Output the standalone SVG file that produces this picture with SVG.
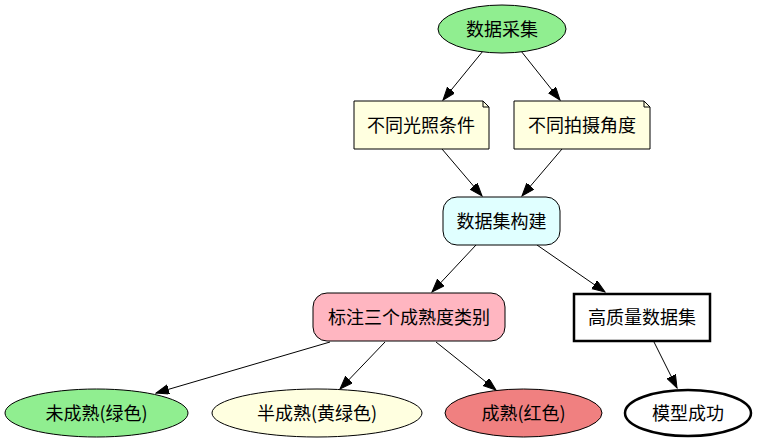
<svg xmlns="http://www.w3.org/2000/svg" width="757" height="443" viewBox="0 0 757 443">
<defs>
<marker id="arr" markerUnits="userSpaceOnUse" markerWidth="14" markerHeight="11" refX="13" refY="4.75" orient="auto">
<path d="M0,0 L13,4.75 L0,9.5 z" fill="#000" stroke="#000" stroke-width="1"/>
</marker>
</defs>
<style>
text{font-family:"Noto Sans CJK SC","Noto Sans",sans-serif;font-size:18px;text-anchor:middle;fill:#000}
.n{stroke:#000;stroke-width:1}
.thick{stroke:#000;stroke-width:2.5}
.e{stroke:#000;stroke-width:1;fill:none;marker-end:url(#arr)}
</style>
<rect width="757" height="443" fill="#fff"/>
<g id="edges">
<line class="e" x1="483" y1="51" x2="443" y2="100"/>
<line class="e" x1="521" y1="51" x2="560" y2="100"/>
<line class="e" x1="442" y1="149" x2="482" y2="196"/>
<line class="e" x1="562" y1="149" x2="522" y2="196"/>
<line class="e" x1="476" y1="245" x2="432" y2="292"/>
<line class="e" x1="537" y1="245" x2="605" y2="292"/>
<line class="e" x1="330" y1="342" x2="156" y2="393"/>
<line class="e" x1="385" y1="342" x2="340" y2="389"/>
<line class="e" x1="436" y1="342" x2="496" y2="390"/>
<line class="e" x1="654" y1="342" x2="677" y2="388"/>
</g>
<g id="n_collect">
<ellipse class="n" cx="502" cy="29" rx="64" ry="24" fill="#90EE90"/>
<text x="502" y="35.5">数据采集</text>
</g>
<g id="n_light">
<polygon class="n" points="354,101 483,101 489,107 489,149 354,149" fill="#FFFFE0"/>
<polyline class="n" points="483,101 483,107 489,107" fill="none"/>
<text x="421" y="131.5">不同光照条件</text>
</g>
<g id="n_angle">
<polygon class="n" points="514,101 644,101 650,107 650,149 514,149" fill="#FFFFE0"/>
<polyline class="n" points="644,101 644,107 650,107" fill="none"/>
<text x="582" y="131.5">不同拍摄角度</text>
</g>
<g id="n_build">
<rect class="n" x="443" y="197" width="117" height="48" rx="14" fill="#E0FFFF"/>
<text x="501.5" y="227.5">数据集构建</text>
</g>
<g id="n_label">
<rect class="n" x="313" y="293" width="192" height="48" rx="14" fill="#FFB6C1"/>
<text x="409" y="323.5">标注三个成熟度类别</text>
</g>
<g id="n_hq">
<rect class="thick" x="574" y="294" width="136" height="47" fill="#fff"/>
<text x="642" y="323.5">高质量数据集</text>
</g>
<g id="n_unripe">
<ellipse class="n" cx="96.5" cy="413" rx="91.5" ry="24" fill="#90EE90"/>
<text x="96.5" y="419.5">未成熟(绿色)</text>
</g>
<g id="n_half">
<ellipse class="n" cx="317" cy="413" rx="105" ry="24" fill="#FFFFE0"/>
<text x="317" y="419.5">半成熟(黄绿色)</text>
</g>
<g id="n_ripe">
<ellipse class="n" cx="523.5" cy="413" rx="78.5" ry="24" fill="#F08080"/>
<text x="523.5" y="419.5">成熟(红色)</text>
</g>
<g id="n_success">
<ellipse class="thick" cx="688" cy="413" rx="63" ry="23" fill="#fff"/>
<text x="688" y="419.5">模型成功</text>
</g>
</svg>
